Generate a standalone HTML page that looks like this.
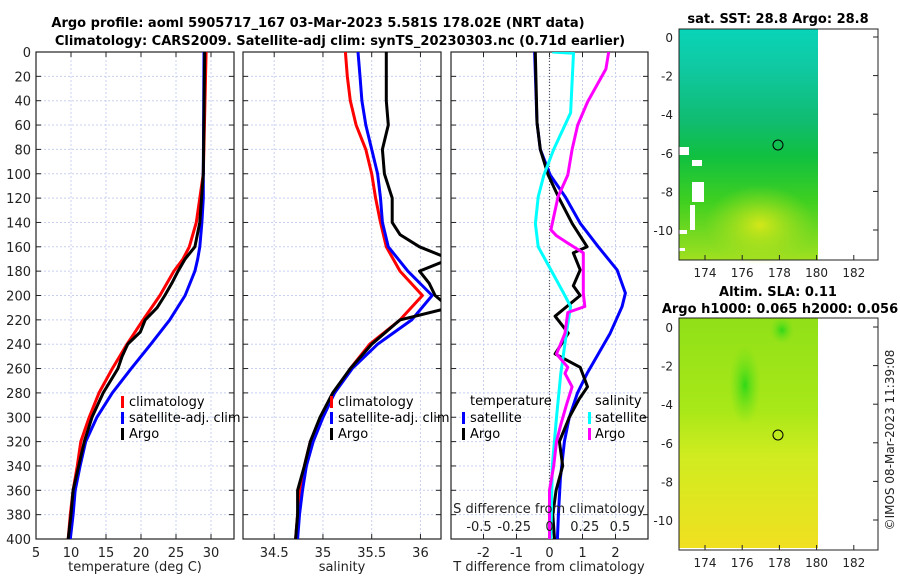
<!DOCTYPE html>
<html><head><meta charset="utf-8">
<style>
html,body{margin:0;padding:0;background:#fff;}
svg{display:block;font-family:"DejaVu Sans","Liberation Sans",sans-serif;}
</style></head>
<body>
<svg id="fig" width="900" height="580" viewBox="0 0 900 580">
<defs>
<clipPath id="c1"><rect x="36" y="52" width="198" height="487"/></clipPath>
<clipPath id="c2"><rect x="243" y="52" width="198" height="487"/></clipPath>
<clipPath id="c3"><rect x="451" y="52" width="197" height="487"/></clipPath>
<linearGradient id="sstg" x1="0" y1="0" x2="0" y2="1">
<stop offset="0" stop-color="#08d4b8"/><stop offset="0.18" stop-color="#10c8a0"/>
<stop offset="0.4" stop-color="#10bc70"/><stop offset="0.55" stop-color="#10c040"/>
<stop offset="0.75" stop-color="#40d020"/><stop offset="1" stop-color="#a0e020"/>
</linearGradient>
<radialGradient id="sstb" cx="0.5" cy="0.5" r="0.5">
<stop offset="0" stop-color="#d8e818" stop-opacity="0.95"/><stop offset="1" stop-color="#b0e020" stop-opacity="0"/>
</radialGradient>
<linearGradient id="slag" x1="0" y1="0" x2="0" y2="1">
<stop offset="0" stop-color="#90e018"/><stop offset="0.4" stop-color="#a8e818"/>
<stop offset="0.6" stop-color="#d0ec20"/><stop offset="1" stop-color="#f0e020"/>
</linearGradient>
<radialGradient id="slab" cx="0.5" cy="0.5" r="0.5">
<stop offset="0" stop-color="#30d818"/><stop offset="1" stop-color="#70e018" stop-opacity="0"/>
</radialGradient>
</defs>

<text x="318" y="27" text-anchor="middle" font-size="13" font-weight="bold">Argo profile: aoml 5905717_167 03-Mar-2023 5.581S 178.02E (NRT data)</text>
<text x="340" y="45" text-anchor="middle" font-size="13" font-weight="bold">Climatology: CARS2009. Satellite-adj clim: synTS_20230303.nc (0.71d earlier)</text>

<g id="p1"></g>
<g id="p2"></g>
<g id="p3"></g>

<!-- legends -->
<g font-size="13">
<rect x="121" y="396" width="3" height="12" fill="#f00"/><text x="129" y="406">climatology</text>
<rect x="121" y="412" width="3" height="12" fill="#00f"/><text x="129" y="422">satellite-adj. clim</text>
<rect x="121" y="428" width="3" height="12" fill="#000"/><text x="129" y="438">Argo</text>
</g>
<g font-size="13">
<rect x="330" y="396" width="3" height="12" fill="#f00"/><text x="338" y="406">climatology</text>
<rect x="330" y="412" width="3" height="12" fill="#00f"/><text x="338" y="422">satellite-adj. clim</text>
<rect x="330" y="428" width="3" height="12" fill="#000"/><text x="338" y="438">Argo</text>
</g>
<g font-size="13">
<text x="470" y="405">temperature</text>
<rect x="462" y="412" width="3" height="12" fill="#00f"/><text x="470" y="422">satellite</text>
<rect x="462" y="428" width="3" height="12" fill="#000"/><text x="470" y="438">Argo</text>
<text x="595" y="405">salinity</text>
<rect x="588" y="412" width="3" height="12" fill="#0ff"/><text x="595" y="422">satellite</text>
<rect x="588" y="428" width="3" height="12" fill="#f0f"/><text x="595" y="438">Argo</text>
</g>

<!-- maps -->
<g>
<text x="778" y="23" text-anchor="middle" font-size="13" font-weight="bold">sat. SST: 28.8 Argo: 28.8</text>
<rect x="679" y="29" width="139" height="231" fill="url(#sstg)"/>
<ellipse cx="760" cy="225" rx="55" ry="40" fill="url(#sstb)"/>
<rect x="679" y="147" width="10" height="8" fill="#fff"/>
<rect x="692" y="160" width="10" height="6" fill="#fff"/>
<rect x="692" y="182" width="12" height="20" fill="#fff"/>
<rect x="690" y="205" width="5" height="25" fill="#fff"/>
<rect x="679" y="230" width="8" height="4" fill="#fff"/>
<rect x="679" y="248" width="6" height="3" fill="#fff"/>
<rect x="679" y="29" width="199" height="231" fill="none" stroke="#222" stroke-width="1"/>
<circle cx="778" cy="145" r="5" fill="none" stroke="#000"/>
</g>
<g>
<text x="778" y="296" text-anchor="middle" font-size="13" font-weight="bold">Altim. SLA: 0.11</text>
<text x="780" y="313" text-anchor="middle" font-size="13" font-weight="bold">Argo h1000: 0.065 h2000: 0.056</text>
<rect x="679" y="318" width="139" height="230" fill="url(#slag)"/>
<ellipse cx="745" cy="385" rx="16" ry="40" fill="url(#slab)"/>
<ellipse cx="782" cy="330" rx="12" ry="14" fill="url(#slab)"/>
<rect x="679" y="318" width="199" height="232" fill="none" stroke="#222" stroke-width="1"/>
<circle cx="778" cy="435" r="5" fill="none" stroke="#000"/>
</g>
<g id="maps-axes"></g>
<text transform="translate(894,440) rotate(-90)" text-anchor="middle" font-size="12" fill="#222">©IMOS 08-Mar-2023 11:39:08</text>
</svg>
<script>
// ---- data ----
const depths = [0,100,120,140,160,170,180,200,220,240,260,280,300,320,340,360,380,400];
const tempClim = [29.3,28.9,28.4,27.9,26.9,26.0,24.7,22.7,20.3,18.0,15.9,14.0,12.6,11.4,10.9,10.3,9.9,9.6];
const tempSat = [29.0,28.9,28.9,28.7,28.4,28.1,27.7,26.3,24.1,21.4,18.6,15.9,13.7,12.1,11.3,10.6,10.3,9.9];
const argoDepths = [0,100,140,160,170,180,190,200,210,220,230,240,250,260,280,300,320,340,360,380,400];
const tempArgo = [29.1,28.9,28.4,27.7,26.3,25.3,24.4,23.4,22.3,20.6,19.9,18.1,17.3,16.7,14.6,13.0,11.9,11.1,10.3,10.0,9.6];
const salDepths = [0,20,40,60,80,100,120,140,160,180,200,220,240,260,280,300,320,340,360,380,400];
const salClim = [35.23,35.25,35.28,35.34,35.44,35.50,35.54,35.59,35.65,35.79,36.02,35.79,35.48,35.28,35.12,34.99,34.87,34.81,34.76,34.74,34.72];
const salSat = [35.36,35.38,35.40,35.44,35.50,35.56,35.59,35.61,35.67,35.87,36.12,35.91,35.56,35.30,35.12,35.00,34.90,34.83,34.79,34.76,34.74];
const salArgoDepths = [0,20,40,60,80,100,120,140,150,160,170,180,190,200,210,220,240,260,280,300,320,340,360,380,400];
const salArgo = [35.65,35.65,35.65,35.67,35.61,35.63,35.71,35.71,35.79,35.99,36.30,35.99,36.09,36.15,36.30,35.79,35.50,35.28,35.10,34.97,34.87,34.81,34.74,34.74,34.72];
const dtDepths = [0,58,80,101,119,141,160,179,198,209,231,264,280,300,320,350,380,400];
const dtSat = [-0.45,-0.38,-0.28,0.02,0.48,0.94,1.48,2.05,2.30,2.20,1.84,1.14,0.85,0.60,0.45,0.33,0.27,0.24];
const dtArgoDepths = [0,58,80,101,119,141,160,165,179,192,200,217,231,248,259,264,275,285,300,320,340,360,380,400];
const dtArgo = [-0.43,-0.38,-0.28,-0.04,0.27,0.69,1.14,0.72,0.93,0.72,0.93,0.17,0.57,0.17,0.93,1.0,1.15,0.9,0.6,0.3,0.4,0.2,0.1,0.15];
const dsDepths = [0,1,50,80,101,119,141,160,179,198,209,231,264,300,340,400];
const dsSat = [0.02,0.17,0.15,0.03,-0.04,-0.08,-0.10,-0.08,0.01,0.10,0.15,0.12,0.08,0.05,0.02,0.01];
const dsArgoDepths = [0,14,41,60,80,101,119,146,151,157,165,181,198,209,214,231,248,259,264,275,290,306,320,340,360,380,400];
const dsArgo = [0.42,0.40,0.27,0.20,0.16,0.13,0.06,0.01,0.05,0.13,0.24,0.24,0.24,0.25,0.13,0.11,0.05,0.13,0.11,0.16,0.12,0.08,0.05,0.03,0.0,0.0,0.0];
const depthTicks = [0,20,40,60,80,100,120,140,160,180,200,220,240,260,280,300,320,340,360,380,400];
const tempTicks = [5,10,15,20,25,30];
const salTicks = [34.5,35,35.5,36];
const dtTicks = [-2,-1,0,1,2];
const dsTicks = [-0.5,-0.25,0,0.25,0.5];
const dsTickLabels = ["-0.5","-0.25","0","0.25","0.5"];
const lonTicks = [174,176,178,180,182];
const latTicks = [0,-2,-4,-6,-8,-10];

const NS='http://www.w3.org/2000/svg';
function mk(tag,attrs,parent){const e=document.createElementNS(NS,tag);for(const k in attrs)e.setAttribute(k,attrs[k]);parent.appendChild(e);return e;}
const Y0=52,Y1=539;
const yD=d=>Y0+(d/400)*(Y1-Y0);
const xT=t=>36+(t-5)*7.0;
const xS=s=>243+(s-34.18)*97.5;
const xDT=t=>549.5+t*33;
const xDS=s=>549.5+s*141;

function frame(g,x0,x1,xticks,xfn,labels,showY){
  xticks.forEach(t=>{const x=xfn(t);
    const l=mk('line',{x1:x,x2:x,y1:Y0,y2:Y1,stroke:'#c8d0f0','stroke-dasharray':'2,2','stroke-width':1},g);
    });
  depthTicks.forEach(d=>{const y=yD(d);
    const l=mk('line',{x1:x0,x2:x1,y1:y,y2:y,stroke:'#c8d0f0','stroke-dasharray':'2,2','stroke-width':1},g);
    
    mk('line',{x1:x0,x2:x0+5,y1:y,y2:y,stroke:'#222'},g);mk('line',{x1:x1-5,x2:x1,y1:y,y2:y,stroke:'#222'},g);
    if(showY){const t=mk('text',{x:x0-5,y:y+5,'text-anchor':'end','font-size':13,fill:'#222'},g);t.textContent=d;
      }
  });
  xticks.forEach((t,i)=>{const x=xfn(t);
    mk('line',{x1:x,x2:x,y1:Y1-5,y2:Y1,stroke:'#222'},g);mk('line',{x1:x,x2:x,y1:Y0,y2:Y0+5,stroke:'#222'},g);
    if(labels){const tx=mk('text',{x:x,y:Y1+18,'text-anchor':'middle','font-size':13,fill:'#222'},g);tx.textContent=labels[i];
      }
  });
  const b=mk('rect',{x:x0,y:Y0,width:x1-x0,height:Y1-Y0,fill:'none',stroke:'#222','stroke-width':1.2},g);
  
}
function line(g,ds,vs,xfn,color,name,clip){
  const pts=ds.map((d,i)=>xfn(vs[i]).toFixed(1)+','+yD(d).toFixed(1)).join(' ');
  const p=mk('polyline',{points:pts,fill:'none',stroke:color,'stroke-width':3,'stroke-linejoin':'round','clip-path':'url(#'+clip+')'},g);
  
  
}
const p1=document.getElementById('p1'),p2=document.getElementById('p2'),p3=document.getElementById('p3');
frame(p1,36,234,tempTicks,xT,tempTicks.map(String),true);
line(p1,depths,tempClim,xT,'#f00','temp-climatology-line','c1');
line(p1,depths,tempSat,xT,'#00f','temp-satellite-line','c1');
line(p1,argoDepths,tempArgo,xT,'#000','temp-argo-line','c1');
let t=mk('text',{x:135,y:571,'text-anchor':'middle','font-size':13,fill:'#222'},p1);t.textContent='temperature (deg C)';


frame(p2,243,441,salTicks,xS,salTicks.map(String),false);
line(p2,salDepths,salClim,xS,'#f00','sal-climatology-line','c2');
line(p2,salDepths,salSat,xS,'#00f','sal-satellite-line','c2');
line(p2,salArgoDepths,salArgo,xS,'#000','sal-argo-line','c2');
t=mk('text',{x:342,y:571,'text-anchor':'middle','font-size':13,fill:'#222'},p2);t.textContent='salinity';


frame(p3,451,648,dtTicks,xDT,dtTicks.map(String),false);
const z=mk('line',{x1:xDT(0),x2:xDT(0),y1:Y0,y2:Y1,stroke:'#555','stroke-dasharray':'1,2','stroke-width':1.2},p3);

line(p3,dtDepths,dtSat,xDT,'#00f','dt-satellite-line','c3');
line(p3,dtArgoDepths,dtArgo,xDT,'#000','dt-argo-line','c3');
line(p3,dsDepths,dsSat,xDS,'#0ff','ds-satellite-line','c3');
line(p3,dsArgoDepths,dsArgo,xDS,'#f0f','ds-argo-line','c3');
t=mk('text',{x:549,y:571,'text-anchor':'middle','font-size':13,fill:'#222'},p3);t.textContent='T difference from climatology';

t=mk('text',{x:549,y:513,'text-anchor':'middle','font-size':13,fill:'#222'},p3);t.textContent='S difference from climatology';

dsTicks.forEach((v,i)=>{const tx=mk('text',{x:xDS(v),y:531,'text-anchor':'middle','font-size':13,fill:'#222'},p3);tx.textContent=dsTickLabels[i];
  });

// map axes
const ma=document.getElementById('maps-axes');
const xL=l=>705+(l-174)*18.6;
[[29,260,37],[318,550,327]].forEach(([top,bot,y0])=>{
  const yL=la=>y0-la*19.3;
  latTicks.forEach(la=>{const y=yL(la);
    mk('line',{x1:873,x2:878,y1:y,y2:y,stroke:'#222'},ma);
    const tx=mk('text',{x:673,y:y+5,'text-anchor':'end','font-size':12,fill:'#222'},ma);tx.textContent=la;
    });
  lonTicks.forEach(lo=>{const x=xL(lo);
    mk('line',{x1:x,x2:x,y1:bot-5,y2:bot,stroke:'#222'},ma);
    const tx=mk('text',{x:x,y:bot+17,'text-anchor':'middle','font-size':12,fill:'#222'},ma);tx.textContent=lo;
    });
});
</script>
</body></html>
